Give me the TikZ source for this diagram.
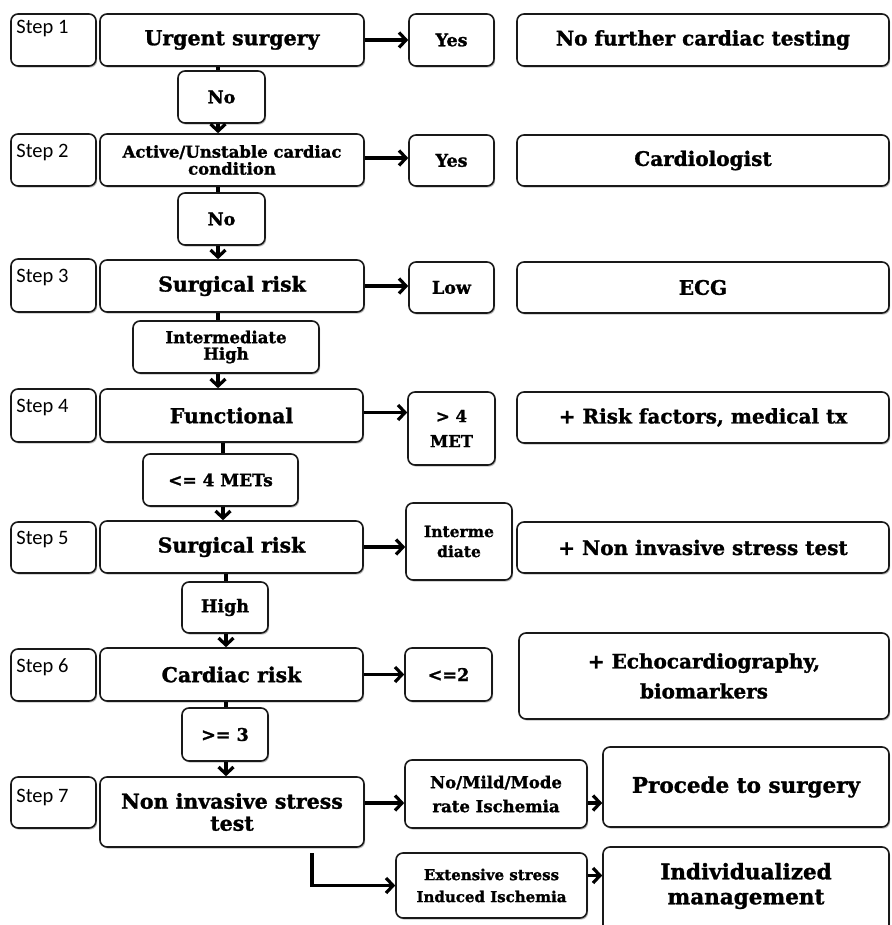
\documentclass[tikz,border=0pt]{standalone}
\usepackage{fontspec}
\setmainfont{DejaVu Serif}[BoldFeatures={FakeBold=1.3}]
\newfontfamily\stepfont{Carlito}
\usetikzlibrary{arrows.meta,shadows}
\newcommand\fs[2]{\fontsize{#1}{#2}\selectfont}
\newcommand\mybox[7]{\node[#1, minimum width={(#4-#2)*1pt}, minimum height={(#5-#3)*1pt}] (#6) at ({(#2+#4)/2},{(#3+#5)/2}) {#7};}
\tikzset{
  bx/.style={draw=black!90, line width=1.6pt, rounded corners=7pt, fill=white, inner sep=0pt, align=center,
    font=\bfseries\fs{16}{18},
    drop shadow={shadow xshift=1.2pt, shadow yshift=-1.6pt, opacity=0.25, fill=black}},
  big/.style={bx, font=\bfseries\fs{20.5}{22}},
  rbox/.style={bx, font=\bfseries\fs{20}{22}},
  small/.style={bx, font=\bfseries\fs{17.5}{19}},
  stepbox/.style={bx},
  steptxt/.style={inner sep=0pt, anchor=base west, font=\stepfont\fs{20.5}{22}},
  plain/.style={inner sep=0pt, align=center},
  arr/.style={line width=3.2pt, -{Straight Barb[length=7pt,width=15pt]}},
  ln/.style={line width=3.2pt},
}
\begin{document}
\begin{tikzpicture}[x=1pt,y=-1pt]
\useasboundingbox (0,0) rectangle (891,925);
\clip (0,0) rectangle (891,925);
\fill[white] (0,0) rectangle (891,925);

% step boxes
\mybox{stepbox}{11}{14}{96}{66}{S1}{}
\mybox{stepbox}{11}{134}{96}{186}{S2}{}
\mybox{stepbox}{11}{259}{96}{312}{S3}{}
\mybox{stepbox}{11}{389}{96}{442}{S4}{}
\mybox{stepbox}{11}{522}{96}{573}{S5}{}
\mybox{stepbox}{11}{649}{96}{701}{S6}{}
\mybox{stepbox}{11}{777}{96}{828}{S7}{}
\node[steptxt] (T1) at ([xshift=6pt,yshift=-20pt]S1.north west) {Step 1};
\node[steptxt] (T2) at ([xshift=6pt,yshift=-24pt]S2.north west) {Step 2};
\node[steptxt] (T3) at ([xshift=6pt,yshift=-24pt]S3.north west) {Step 3};
\node[steptxt] (T4) at ([xshift=6pt,yshift=-24pt]S4.north west) {Step 4};
\node[steptxt] (T5) at ([xshift=6pt,yshift=-23pt]S5.north west) {Step 5};
\node[steptxt] (T6) at ([xshift=6pt,yshift=-24pt]S6.north west) {Step 6};
\node[steptxt] (T7) at ([xshift=6pt,yshift=-26pt]S7.north west) {Step 7};

% main boxes
\mybox{big}{100}{14}{364}{66}{M1}{Urgent surgery}
\mybox{bx, font=\bfseries\fs{16.5}{17}}{100}{134}{364}{186}{M2}{Active/Unstable cardiac\\condition}
\mybox{big}{100}{260}{364}{312}{M3}{Surgical risk}
\mybox{big}{100}{389}{363}{442}{M4}{Functional}
\mybox{big}{100}{521}{363}{573}{M5}{Surgical risk}
\mybox{big}{100}{648}{363}{701}{M6}{Cardiac risk}
\mybox{big}{100}{777}{364}{847}{M7}{Non invasive stress\\test}

% down boxes
\mybox{small}{178}{71}{265}{123}{D1}{No}
\mybox{small}{178}{193}{265}{245}{D2}{No}
\mybox{small, font=\bfseries\fs{16.5}{16.5}}{133}{321}{319}{373}{D3}{Intermediate\\High}
\mybox{small, font=\bfseries\fs{17}{18}}{143}{454}{298}{506}{D4}{<= 4 METs}
\mybox{small}{182}{582}{268}{633}{D5}{High}
\mybox{small}{182}{708}{268}{761}{D6}{>= 3}

% answer boxes
\mybox{small}{409}{14}{494}{66}{A1}{Yes}
\mybox{small}{409}{135}{494}{186}{A2}{Yes}
\mybox{small}{409}{262}{494}{313}{A3}{Low}
\mybox{small, font=\bfseries\fs{16.5}{25}}{408}{392}{495}{465}{A4}{> 4\\MET}
\mybox{small, font=\bfseries\fs{15.5}{20}}{406}{503}{512}{580}{A5}{Interme\\diate}
\mybox{small}{405}{648}{492}{701}{A6}{<=2}
\mybox{small, font=\bfseries\fs{16.5}{24}}{405}{760}{587}{828}{A7a}{No/Mild/Mode\\rate Ischemia}
\mybox{small, font=\bfseries\fs{15}{22}}{396}{853}{587}{918}{A7b}{Extensive stress\\Induced Ischemia}

% right boxes
\mybox{rbox}{517}{14}{889}{66}{R1}{No further cardiac testing}
\mybox{rbox}{517}{135}{889}{186}{R2}{Cardiologist}
\mybox{rbox}{517}{262}{889}{313}{R3}{ECG}
\mybox{rbox}{517}{392}{889}{443}{R4}{+ Risk factors, medical tx}
\mybox{rbox}{517}{522}{889}{573}{R5}{+ Non invasive stress test}
\mybox{rbox, font=\bfseries\fs{20}{30}}{519}{633}{889}{719}{R6}{+ Echocardiography,\\biomarkers}
\mybox{rbox, font=\bfseries\fs{21.5}{24}}{603}{747}{889}{827}{R7a}{Procede to surgery}
\mybox{rbox}{603}{847}{889}{950}{R7b}{}
\node[plain, font=\bfseries\fs{21.5}{25}] (T7b) at (746,886) {Individualized\\management};

% vertical connectors
\coordinate (v1) at (218,0);
\coordinate (v4) at (223,0);
\coordinate (v5) at (226,0);
\draw[ln] (M1.south -| v1) -- (D1.north -| v1);
\draw[arr] (D1.south -| v1) -- (M2.north -| v1);
\draw[ln] (M2.south -| v1) -- (D2.north -| v1);
\draw[arr] (D2.south -| v1) -- (M3.north -| v1);
\draw[ln] (M3.south -| v1) -- (D3.north -| v1);
\draw[arr] (D3.south -| v1) -- (M4.north -| v1);
\draw[ln] (M4.south -| v4) -- (D4.north -| v4);
\draw[arr] (D4.south -| v4) -- (M5.north -| v4);
\draw[ln] (M5.south -| v5) -- (D5.north -| v5);
\draw[arr] (D5.south -| v5) -- (M6.north -| v5);
\draw[ln] (M6.south -| v5) -- (D6.north -| v5);
\draw[arr] (D6.south -| v5) -- (M7.north -| v5);

% horizontal connectors
\draw[arr] (M1.east) -- (M1.east -| A1.west);
\draw[arr] ([yshift=2pt]M2.east) -- ([yshift=2pt]M2.east -| A2.west);
\draw[arr] (M3.east) -- (M3.east -| A3.west);
\draw[arr] ([yshift=3pt]M4.east) -- ([yshift=3pt]M4.east -| A4.west);
\draw[arr] (M5.east) -- (M5.east -| A5.west);
\draw[arr] (M6.east) -- (M6.east -| A6.west);
\draw[arr] ([yshift=9pt]M7.east) -- ([yshift=9pt]M7.east -| A7a.west);
\draw[arr] ([yshift=-9pt]A7a.east) -- ([yshift=-9pt]A7a.east -| R7a.west);
\draw[arr] ([yshift=10pt]A7b.east) -- ([yshift=10pt]A7b.east -| R7b.west);
\coordinate (e1) at (312,853);
\draw[arr] (e1) |- (A7b.west);
\end{tikzpicture}
\end{document}
